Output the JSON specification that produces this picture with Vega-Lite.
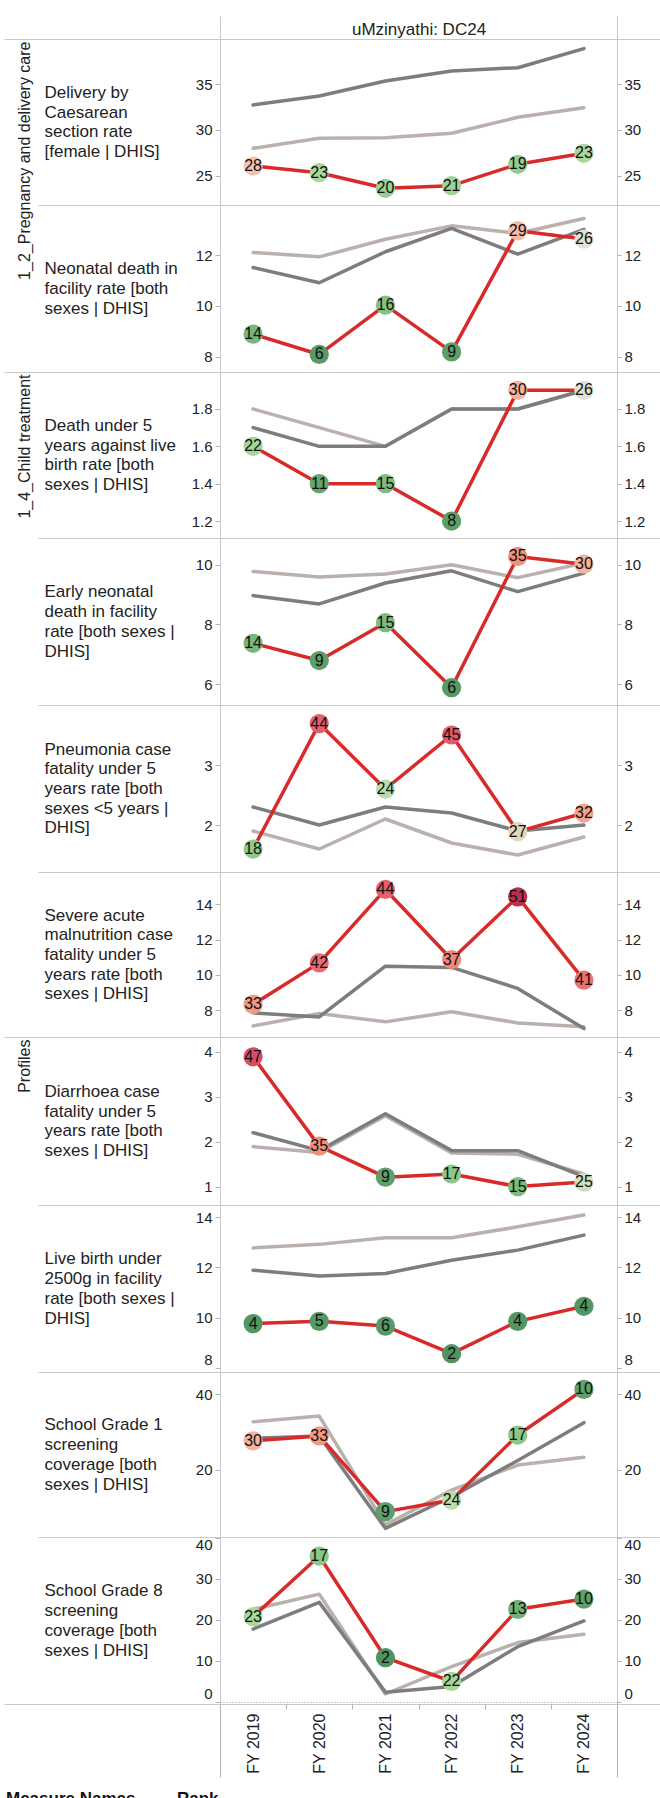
{
"$schema": "https://vega.github.io/schema/vega-lite/v6.json",
"autosize": {"type": "none"},
"padding": {"left": 220, "top": 39, "right": 440, "bottom": 1759},
"background": "white",
"datasets": {"d": [
{"ind":"R1","year":"FY 2019","series":"National","value":28.0},{"ind":"R1","year":"FY 2020","series":"National","value":29.09},{"ind":"R1","year":"FY 2021","series":"National","value":29.16},{"ind":"R1","year":"FY 2022","series":"National","value":29.64},{"ind":"R1","year":"FY 2023","series":"National","value":31.38},{"ind":"R1","year":"FY 2024","series":"National","value":32.43},
{"ind":"R1","year":"FY 2019","series":"Province","value":32.73},{"ind":"R1","year":"FY 2020","series":"Province","value":33.71},{"ind":"R1","year":"FY 2021","series":"Province","value":35.34},{"ind":"R1","year":"FY 2022","series":"Province","value":36.43},{"ind":"R1","year":"FY 2023","series":"Province","value":36.79},{"ind":"R1","year":"FY 2024","series":"Province","value":38.87},
{"ind":"R1","year":"FY 2019","series":"District","value":26.07,"rank":28},{"ind":"R1","year":"FY 2020","series":"District","value":25.34,"rank":23},{"ind":"R1","year":"FY 2021","series":"District","value":23.64,"rank":20},{"ind":"R1","year":"FY 2022","series":"District","value":23.93,"rank":21},{"ind":"R1","year":"FY 2023","series":"District","value":26.26,"rank":19},{"ind":"R1","year":"FY 2024","series":"District","value":27.46,"rank":23},
{"ind":"R2","year":"FY 2019","series":"National","value":12.1},{"ind":"R2","year":"FY 2020","series":"National","value":11.93},{"ind":"R2","year":"FY 2021","series":"National","value":12.62},{"ind":"R2","year":"FY 2022","series":"National","value":13.15},{"ind":"R2","year":"FY 2023","series":"National","value":12.85},{"ind":"R2","year":"FY 2024","series":"National","value":13.44},
{"ind":"R2","year":"FY 2019","series":"Province","value":11.51},{"ind":"R2","year":"FY 2020","series":"Province","value":10.91},{"ind":"R2","year":"FY 2021","series":"Province","value":12.13},{"ind":"R2","year":"FY 2022","series":"Province","value":13.05},{"ind":"R2","year":"FY 2023","series":"Province","value":12.04},{"ind":"R2","year":"FY 2024","series":"Province","value":13.01},
{"ind":"R2","year":"FY 2019","series":"District","value":8.89,"rank":14},{"ind":"R2","year":"FY 2020","series":"District","value":8.09,"rank":6},{"ind":"R2","year":"FY 2021","series":"District","value":10.03,"rank":16},{"ind":"R2","year":"FY 2022","series":"District","value":8.19,"rank":9},{"ind":"R2","year":"FY 2023","series":"District","value":12.96,"rank":29},{"ind":"R2","year":"FY 2024","series":"District","value":12.63,"rank":26},
{"ind":"R3","year":"FY 2019","series":"National","value":1.8},{"ind":"R3","year":"FY 2020","series":"National","value":1.7},{"ind":"R3","year":"FY 2021","series":"National","value":1.6},{"ind":"R3","year":"FY 2022","series":"National","value":1.8},{"ind":"R3","year":"FY 2023","series":"National","value":1.8},{"ind":"R3","year":"FY 2024","series":"National","value":1.9},
{"ind":"R3","year":"FY 2019","series":"Province","value":1.7},{"ind":"R3","year":"FY 2020","series":"Province","value":1.6},{"ind":"R3","year":"FY 2021","series":"Province","value":1.6},{"ind":"R3","year":"FY 2022","series":"Province","value":1.8},{"ind":"R3","year":"FY 2023","series":"Province","value":1.8},{"ind":"R3","year":"FY 2024","series":"Province","value":1.9},
{"ind":"R3","year":"FY 2019","series":"District","value":1.6,"rank":22},{"ind":"R3","year":"FY 2020","series":"District","value":1.4,"rank":11},{"ind":"R3","year":"FY 2021","series":"District","value":1.4,"rank":15},{"ind":"R3","year":"FY 2022","series":"District","value":1.2,"rank":8},{"ind":"R3","year":"FY 2023","series":"District","value":1.9,"rank":30},{"ind":"R3","year":"FY 2024","series":"District","value":1.9,"rank":26},
{"ind":"R4","year":"FY 2019","series":"National","value":9.78},{"ind":"R4","year":"FY 2020","series":"National","value":9.59},{"ind":"R4","year":"FY 2021","series":"National","value":9.69},{"ind":"R4","year":"FY 2022","series":"National","value":10.0},{"ind":"R4","year":"FY 2023","series":"National","value":9.57},{"ind":"R4","year":"FY 2024","series":"National","value":10.06},
{"ind":"R4","year":"FY 2019","series":"Province","value":8.97},{"ind":"R4","year":"FY 2020","series":"Province","value":8.69},{"ind":"R4","year":"FY 2021","series":"Province","value":9.39},{"ind":"R4","year":"FY 2022","series":"Province","value":9.8},{"ind":"R4","year":"FY 2023","series":"Province","value":9.1},{"ind":"R4","year":"FY 2024","series":"Province","value":9.72},
{"ind":"R4","year":"FY 2019","series":"District","value":7.37,"rank":14},{"ind":"R4","year":"FY 2020","series":"District","value":6.79,"rank":9},{"ind":"R4","year":"FY 2021","series":"District","value":8.06,"rank":15},{"ind":"R4","year":"FY 2022","series":"District","value":5.88,"rank":6},{"ind":"R4","year":"FY 2023","series":"District","value":10.28,"rank":35},{"ind":"R4","year":"FY 2024","series":"District","value":10.02,"rank":30},
{"ind":"R5","year":"FY 2019","series":"National","value":1.9},{"ind":"R5","year":"FY 2020","series":"National","value":1.6},{"ind":"R5","year":"FY 2021","series":"National","value":2.1},{"ind":"R5","year":"FY 2022","series":"National","value":1.7},{"ind":"R5","year":"FY 2023","series":"National","value":1.5},{"ind":"R5","year":"FY 2024","series":"National","value":1.8},
{"ind":"R5","year":"FY 2019","series":"Province","value":2.3},{"ind":"R5","year":"FY 2020","series":"Province","value":2.0},{"ind":"R5","year":"FY 2021","series":"Province","value":2.3},{"ind":"R5","year":"FY 2022","series":"Province","value":2.2},{"ind":"R5","year":"FY 2023","series":"Province","value":1.9},{"ind":"R5","year":"FY 2024","series":"Province","value":2.0},
{"ind":"R5","year":"FY 2019","series":"District","value":1.6,"rank":18},{"ind":"R5","year":"FY 2020","series":"District","value":3.69,"rank":44},{"ind":"R5","year":"FY 2021","series":"District","value":2.6,"rank":24},{"ind":"R5","year":"FY 2022","series":"District","value":3.5,"rank":45},{"ind":"R5","year":"FY 2023","series":"District","value":1.89,"rank":27},{"ind":"R5","year":"FY 2024","series":"District","value":2.2,"rank":32},
{"ind":"R6","year":"FY 2019","series":"National","value":7.1},{"ind":"R6","year":"FY 2020","series":"National","value":7.8},{"ind":"R6","year":"FY 2021","series":"National","value":7.33},{"ind":"R6","year":"FY 2022","series":"National","value":7.9},{"ind":"R6","year":"FY 2023","series":"National","value":7.27},{"ind":"R6","year":"FY 2024","series":"National","value":7.05},
{"ind":"R6","year":"FY 2019","series":"Province","value":7.84},{"ind":"R6","year":"FY 2020","series":"Province","value":7.61},{"ind":"R6","year":"FY 2021","series":"Province","value":10.49},{"ind":"R6","year":"FY 2022","series":"Province","value":10.42},{"ind":"R6","year":"FY 2023","series":"Province","value":9.23},{"ind":"R6","year":"FY 2024","series":"Province","value":6.95},
{"ind":"R6","year":"FY 2019","series":"District","value":8.32,"rank":33},{"ind":"R6","year":"FY 2020","series":"District","value":10.68,"rank":42},{"ind":"R6","year":"FY 2021","series":"District","value":14.85,"rank":44},{"ind":"R6","year":"FY 2022","series":"District","value":10.87,"rank":37},{"ind":"R6","year":"FY 2023","series":"District","value":14.43,"rank":51},{"ind":"R6","year":"FY 2024","series":"District","value":9.7,"rank":41},
{"ind":"R7","year":"FY 2019","series":"National","value":1.89},{"ind":"R7","year":"FY 2020","series":"National","value":1.76},{"ind":"R7","year":"FY 2021","series":"National","value":2.58},{"ind":"R7","year":"FY 2022","series":"National","value":1.75},{"ind":"R7","year":"FY 2023","series":"National","value":1.72},{"ind":"R7","year":"FY 2024","series":"National","value":1.28},
{"ind":"R7","year":"FY 2019","series":"Province","value":2.2},{"ind":"R7","year":"FY 2020","series":"Province","value":1.8},{"ind":"R7","year":"FY 2021","series":"Province","value":2.62},{"ind":"R7","year":"FY 2022","series":"Province","value":1.8},{"ind":"R7","year":"FY 2023","series":"Province","value":1.8},{"ind":"R7","year":"FY 2024","series":"Province","value":1.22},
{"ind":"R7","year":"FY 2019","series":"District","value":3.89,"rank":47},{"ind":"R7","year":"FY 2020","series":"District","value":1.9,"rank":35},{"ind":"R7","year":"FY 2021","series":"District","value":1.21,"rank":9},{"ind":"R7","year":"FY 2022","series":"District","value":1.28,"rank":17},{"ind":"R7","year":"FY 2023","series":"District","value":1.0,"rank":15},{"ind":"R7","year":"FY 2024","series":"District","value":1.1,"rank":25},
{"ind":"R8","year":"FY 2019","series":"National","value":12.78},{"ind":"R8","year":"FY 2020","series":"National","value":12.92},{"ind":"R8","year":"FY 2021","series":"National","value":13.18},{"ind":"R8","year":"FY 2022","series":"National","value":13.18},{"ind":"R8","year":"FY 2023","series":"National","value":13.62},{"ind":"R8","year":"FY 2024","series":"National","value":14.09},
{"ind":"R8","year":"FY 2019","series":"Province","value":11.89},{"ind":"R8","year":"FY 2020","series":"Province","value":11.66},{"ind":"R8","year":"FY 2021","series":"Province","value":11.76},{"ind":"R8","year":"FY 2022","series":"Province","value":12.29},{"ind":"R8","year":"FY 2023","series":"Province","value":12.69},{"ind":"R8","year":"FY 2024","series":"Province","value":13.29},
{"ind":"R8","year":"FY 2019","series":"District","value":9.76,"rank":4},{"ind":"R8","year":"FY 2020","series":"District","value":9.85,"rank":5},{"ind":"R8","year":"FY 2021","series":"District","value":9.66,"rank":6},{"ind":"R8","year":"FY 2022","series":"District","value":8.56,"rank":2},{"ind":"R8","year":"FY 2023","series":"District","value":9.85,"rank":4},{"ind":"R8","year":"FY 2024","series":"District","value":10.45,"rank":4},
{"ind":"R9","year":"FY 2019","series":"National","value":32.76},{"ind":"R9","year":"FY 2020","series":"National","value":34.26},{"ind":"R9","year":"FY 2021","series":"National","value":5.5},{"ind":"R9","year":"FY 2022","series":"National","value":14.7},{"ind":"R9","year":"FY 2023","series":"National","value":21.3},{"ind":"R9","year":"FY 2024","series":"National","value":23.35},
{"ind":"R9","year":"FY 2019","series":"Province","value":28.37},{"ind":"R9","year":"FY 2020","series":"Province","value":29.0},{"ind":"R9","year":"FY 2021","series":"Province","value":4.58},{"ind":"R9","year":"FY 2022","series":"Province","value":12.93},{"ind":"R9","year":"FY 2023","series":"Province","value":22.5},{"ind":"R9","year":"FY 2024","series":"Province","value":32.5},
{"ind":"R9","year":"FY 2019","series":"District","value":27.7,"rank":30},{"ind":"R9","year":"FY 2020","series":"District","value":29.0,"rank":33},{"ind":"R9","year":"FY 2021","series":"District","value":9.0,"rank":9},{"ind":"R9","year":"FY 2022","series":"District","value":12.06,"rank":24},{"ind":"R9","year":"FY 2023","series":"District","value":29.24,"rank":17},{"ind":"R9","year":"FY 2024","series":"District","value":41.3,"rank":10},
{"ind":"R10","year":"FY 2019","series":"National","value":22.6},{"ind":"R10","year":"FY 2020","series":"National","value":26.3},{"ind":"R10","year":"FY 2021","series":"National","value":1.95},{"ind":"R10","year":"FY 2022","series":"National","value":8.6},{"ind":"R10","year":"FY 2023","series":"National","value":14.5},{"ind":"R10","year":"FY 2024","series":"National","value":16.5},
{"ind":"R10","year":"FY 2019","series":"Province","value":17.8},{"ind":"R10","year":"FY 2020","series":"Province","value":24.3},{"ind":"R10","year":"FY 2021","series":"Province","value":2.4},{"ind":"R10","year":"FY 2022","series":"Province","value":3.8},{"ind":"R10","year":"FY 2023","series":"Province","value":13.5},{"ind":"R10","year":"FY 2024","series":"Province","value":19.76},
{"ind":"R10","year":"FY 2019","series":"District","value":20.8,"rank":23},{"ind":"R10","year":"FY 2020","series":"District","value":35.6,"rank":17},{"ind":"R10","year":"FY 2021","series":"District","value":10.8,"rank":2},{"ind":"R10","year":"FY 2022","series":"District","value":5.0,"rank":22},{"ind":"R10","year":"FY 2023","series":"District","value":22.6,"rank":13},{"ind":"R10","year":"FY 2024","series":"District","value":25.1,"rank":10}
]},
"data": {"name": "d"},
"spacing": 0,
"bounds": "flush",
"vconcat": [
{"height": 166, "width": 397,
 "transform": [{"filter": "datum.ind === 'R1'"}],
 "encoding": {"x": {"field": "year", "type": "ordinal", "scale": {"type": "band", "paddingInner": 0, "paddingOuter": 0}, "axis": {"orient": "top", "labels": false, "tickBand": "extent", "tickSize": 23, "tickColor": "#c8c8c8", "tickOpacity": {"condition": {"test": "datum.index < 0 || datum.index === 1 || datum.value === 'FY 2024'", "value": 1}, "value": 0}, "title": "uMzinyathi: DC24", "titleFontSize": 17, "titleX": 198.5, "titleY": -9.7, "titleAlign": "center", "titleBaseline": "middle", "titleAngle": 0}}},
 "layer": [
  {"mark": {"type": "line", "strokeWidth": 3.5, "strokeJoin": "round", "strokeCap": "round"},
   "encoding": {"y": {"field": "value", "type": "quantitative", "scale": {"domain": [21.82, 39.92], "zero": false, "nice": false}, "axis": {"orient": "left", "values": [25, 30, 35], "format": "d", "title": ["Delivery by", "Caesarean", "section rate", "[female | DHIS]"], "titleAngle": 0, "titleAlign": "left", "titleBaseline": "middle", "titleX": -176, "titleY": 53.45, "titleLineHeight": 19.7}},
    "color": {"field": "series", "type": "nominal", "scale": {"domain": ["District", "Province", "National"], "range": ["#d92a2a", "#7d7d7d", "#bab0ac"]}, "legend": {"title": "Measure Names", "legendX": -214, "legendY": 1752}}}},
  {"transform": [{"filter": "datum.series === 'District'"}], "mark": {"type": "circle", "size": 370, "opacity": 1},
   "encoding": {"y": {"field": "value", "type": "quantitative", "scale": {"domain": [21.82, 39.92], "zero": false, "nice": false}, "axis": {"orient": "left", "values": [39.92], "tickSize": 216, "tickColor": "#c8c8c8", "labels": false, "title": "1_2_Pregnancy and delivery care", "titleAngle": 270, "titleAlign": "right", "titleBaseline": "middle", "titleX": -196, "titleY": 2, "titleFontSize": 16}},
    "fill": {"field": "rank", "type": "quantitative", "scale": {"type": "linear", "domain": [1, 10, 17, 23, 26, 28, 33, 40, 46, 52], "range": ["#4e9160", "#60a06a", "#8cc688", "#a9d89c", "#dde3d5", "#f5c3b1", "#f29984", "#ee7574", "#df5568", "#b8234a"]}, "legend": {"title": "Rank", "legendX": -43, "legendY": 1752}}}},
  {"transform": [{"filter": "datum.series === 'District'"}], "mark": {"type": "text", "fontSize": 16, "font": "Liberation Sans", "color": "#111"},
   "encoding": {"y": {"field": "value", "type": "quantitative", "scale": {"domain": [21.82, 39.92], "zero": false, "nice": false}, "axis": {"orient": "right", "values": [25, 30, 35], "format": "d", "title": null, "tickSize": 4}}, "text": {"field": "rank", "type": "quantitative"}}},
  {"transform": [{"filter": "datum.series === 'District'"}], "mark": {"type": "point", "opacity": 0},
   "encoding": {"y": {"field": "value", "type": "quantitative", "scale": {"domain": [21.82, 39.92], "zero": false, "nice": false}, "axis": {"orient": "right", "values": [39.92], "tickSize": 43, "tickColor": "#c8c8c8", "labels": false, "title": null}}}}
 ],
 "resolve": {"axis": {"y": "independent"}}},
{"height": 167, "width": 397,
 "transform": [{"filter": "datum.ind === 'R2'"}],
 "encoding": {"x": {"field": "year", "type": "ordinal", "scale": {"type": "band", "paddingInner": 0, "paddingOuter": 0}, "axis": null}},
 "layer": [
  {"mark": {"type": "line", "strokeWidth": 3.5, "strokeJoin": "round", "strokeCap": "round"},
   "encoding": {"y": {"field": "value", "type": "quantitative", "scale": {"domain": [7.4, 13.97], "zero": false, "nice": false}, "axis": {"orient": "left", "values": [8, 10, 12], "format": "d", "title": ["Neonatal death in", "facility rate [both", "sexes | DHIS]"], "titleAngle": 0, "titleAlign": "left", "titleBaseline": "middle", "titleX": -176, "titleY": 63.8, "titleLineHeight": 19.7}},
    "color": {"field": "series", "type": "nominal", "scale": {"domain": ["District", "Province", "National"], "range": ["#d92a2a", "#7d7d7d", "#bab0ac"]}, "legend": {"title": "Measure Names", "legendX": -214, "legendY": 1752}}}},
  {"transform": [{"filter": "datum.series === 'District'"}], "mark": {"type": "circle", "size": 370, "opacity": 1},
   "encoding": {"y": {"field": "value", "type": "quantitative", "scale": {"domain": [7.4, 13.97], "zero": false, "nice": false}, "axis": {"orient": "left", "values": [13.97], "tickSize": 182, "tickColor": "#c8c8c8", "labels": false, "title": null}},
    "fill": {"field": "rank", "type": "quantitative", "scale": {"type": "linear", "domain": [1, 10, 17, 23, 26, 28, 33, 40, 46, 52], "range": ["#4e9160", "#60a06a", "#8cc688", "#a9d89c", "#dde3d5", "#f5c3b1", "#f29984", "#ee7574", "#df5568", "#b8234a"]}, "legend": {"title": "Rank", "legendX": -43, "legendY": 1752}}}},
  {"transform": [{"filter": "datum.series === 'District'"}], "mark": {"type": "text", "fontSize": 16, "font": "Liberation Sans", "color": "#111"},
   "encoding": {"y": {"field": "value", "type": "quantitative", "scale": {"domain": [7.4, 13.97], "zero": false, "nice": false}, "axis": {"orient": "right", "values": [8, 10, 12], "format": "d", "title": null, "tickSize": 4}}, "text": {"field": "rank", "type": "quantitative"}}},
  {"transform": [{"filter": "datum.series === 'District'"}], "mark": {"type": "point", "opacity": 0},
   "encoding": {"y": {"field": "value", "type": "quantitative", "scale": {"domain": [7.4, 13.97], "zero": false, "nice": false}, "axis": {"orient": "right", "values": [13.97], "tickSize": 43, "tickColor": "#c8c8c8", "labels": false, "title": null}}}}
 ],
 "resolve": {"axis": {"y": "independent"}}},
{"height": 166, "width": 397,
 "transform": [{"filter": "datum.ind === 'R3'"}],
 "encoding": {"x": {"field": "year", "type": "ordinal", "scale": {"type": "band", "paddingInner": 0, "paddingOuter": 0}, "axis": null}},
 "layer": [
  {"mark": {"type": "line", "strokeWidth": 3.5, "strokeJoin": "round", "strokeCap": "round"},
   "encoding": {"y": {"field": "value", "type": "quantitative", "scale": {"domain": [1.109, 1.998], "zero": false, "nice": false}, "axis": {"orient": "left", "values": [1.2, 1.4, 1.6, 1.8], "format": ".1f", "title": ["Death under 5", "years against live", "birth rate [both", "sexes | DHIS]"], "titleAngle": 0, "titleAlign": "left", "titleBaseline": "middle", "titleX": -176, "titleY": 53.45, "titleLineHeight": 19.7}},
    "color": {"field": "series", "type": "nominal", "scale": {"domain": ["District", "Province", "National"], "range": ["#d92a2a", "#7d7d7d", "#bab0ac"]}, "legend": {"title": "Measure Names", "legendX": -214, "legendY": 1752}}}},
  {"transform": [{"filter": "datum.series === 'District'"}], "mark": {"type": "circle", "size": 370, "opacity": 1},
   "encoding": {"y": {"field": "value", "type": "quantitative", "scale": {"domain": [1.109, 1.998], "zero": false, "nice": false}, "axis": {"orient": "left", "values": [1.998], "tickSize": 216, "tickColor": "#c8c8c8", "labels": false, "title": "1_4_Child treatment", "titleAngle": 270, "titleAlign": "right", "titleBaseline": "middle", "titleX": -196, "titleY": 2, "titleFontSize": 16}},
    "fill": {"field": "rank", "type": "quantitative", "scale": {"type": "linear", "domain": [1, 10, 17, 23, 26, 28, 33, 40, 46, 52], "range": ["#4e9160", "#60a06a", "#8cc688", "#a9d89c", "#dde3d5", "#f5c3b1", "#f29984", "#ee7574", "#df5568", "#b8234a"]}, "legend": {"title": "Rank", "legendX": -43, "legendY": 1752}}}},
  {"transform": [{"filter": "datum.series === 'District'"}], "mark": {"type": "text", "fontSize": 16, "font": "Liberation Sans", "color": "#111"},
   "encoding": {"y": {"field": "value", "type": "quantitative", "scale": {"domain": [1.109, 1.998], "zero": false, "nice": false}, "axis": {"orient": "right", "values": [1.2, 1.4, 1.6, 1.8], "format": ".1f", "title": null, "tickSize": 4}}, "text": {"field": "rank", "type": "quantitative"}}},
  {"transform": [{"filter": "datum.series === 'District'"}], "mark": {"type": "point", "opacity": 0},
   "encoding": {"y": {"field": "value", "type": "quantitative", "scale": {"domain": [1.109, 1.998], "zero": false, "nice": false}, "axis": {"orient": "right", "values": [1.998], "tickSize": 43, "tickColor": "#c8c8c8", "labels": false, "title": null}}}}
 ],
 "resolve": {"axis": {"y": "independent"}}},
{"height": 167, "width": 397,
 "transform": [{"filter": "datum.ind === 'R4'"}],
 "encoding": {"x": {"field": "year", "type": "ordinal", "scale": {"type": "band", "paddingInner": 0, "paddingOuter": 0}, "axis": null}},
 "layer": [
  {"mark": {"type": "line", "strokeWidth": 3.5, "strokeJoin": "round", "strokeCap": "round"},
   "encoding": {"y": {"field": "value", "type": "quantitative", "scale": {"domain": [5.3, 10.9], "zero": false, "nice": false}, "axis": {"orient": "left", "values": [6, 8, 10], "format": "d", "title": ["Early neonatal", "death in facility", "rate [both sexes |", "DHIS]"], "titleAngle": 0, "titleAlign": "left", "titleBaseline": "middle", "titleX": -176, "titleY": 53.95, "titleLineHeight": 19.7}},
    "color": {"field": "series", "type": "nominal", "scale": {"domain": ["District", "Province", "National"], "range": ["#d92a2a", "#7d7d7d", "#bab0ac"]}, "legend": {"title": "Measure Names", "legendX": -214, "legendY": 1752}}}},
  {"transform": [{"filter": "datum.series === 'District'"}], "mark": {"type": "circle", "size": 370, "opacity": 1},
   "encoding": {"y": {"field": "value", "type": "quantitative", "scale": {"domain": [5.3, 10.9], "zero": false, "nice": false}, "axis": {"orient": "left", "values": [10.9], "tickSize": 182, "tickColor": "#c8c8c8", "labels": false, "title": null}},
    "fill": {"field": "rank", "type": "quantitative", "scale": {"type": "linear", "domain": [1, 10, 17, 23, 26, 28, 33, 40, 46, 52], "range": ["#4e9160", "#60a06a", "#8cc688", "#a9d89c", "#dde3d5", "#f5c3b1", "#f29984", "#ee7574", "#df5568", "#b8234a"]}, "legend": {"title": "Rank", "legendX": -43, "legendY": 1752}}}},
  {"transform": [{"filter": "datum.series === 'District'"}], "mark": {"type": "text", "fontSize": 16, "font": "Liberation Sans", "color": "#111"},
   "encoding": {"y": {"field": "value", "type": "quantitative", "scale": {"domain": [5.3, 10.9], "zero": false, "nice": false}, "axis": {"orient": "right", "values": [6, 8, 10], "format": "d", "title": null, "tickSize": 4}}, "text": {"field": "rank", "type": "quantitative"}}},
  {"transform": [{"filter": "datum.series === 'District'"}], "mark": {"type": "point", "opacity": 0},
   "encoding": {"y": {"field": "value", "type": "quantitative", "scale": {"domain": [5.3, 10.9], "zero": false, "nice": false}, "axis": {"orient": "right", "values": [10.9], "tickSize": 43, "tickColor": "#c8c8c8", "labels": false, "title": null}}}}
 ],
 "resolve": {"axis": {"y": "independent"}}},
{"height": 167, "width": 397,
 "transform": [{"filter": "datum.ind === 'R5'"}],
 "encoding": {"x": {"field": "year", "type": "ordinal", "scale": {"type": "band", "paddingInner": 0, "paddingOuter": 0}, "axis": null}},
 "layer": [
  {"mark": {"type": "line", "strokeWidth": 3.5, "strokeJoin": "round", "strokeCap": "round"},
   "encoding": {"y": {"field": "value", "type": "quantitative", "scale": {"domain": [1.217, 4.0], "zero": false, "nice": false}, "axis": {"orient": "left", "values": [2, 3], "format": "d", "title": ["Pneumonia case", "fatality under 5", "years rate [both", "sexes <5 years |", "DHIS]"], "titleAngle": 0, "titleAlign": "left", "titleBaseline": "middle", "titleX": -176, "titleY": 44.1, "titleLineHeight": 19.7}},
    "color": {"field": "series", "type": "nominal", "scale": {"domain": ["District", "Province", "National"], "range": ["#d92a2a", "#7d7d7d", "#bab0ac"]}, "legend": {"title": "Measure Names", "legendX": -214, "legendY": 1752}}}},
  {"transform": [{"filter": "datum.series === 'District'"}], "mark": {"type": "circle", "size": 370, "opacity": 1},
   "encoding": {"y": {"field": "value", "type": "quantitative", "scale": {"domain": [1.217, 4.0], "zero": false, "nice": false}, "axis": {"orient": "left", "values": [4.0], "tickSize": 182, "tickColor": "#c8c8c8", "labels": false, "title": null}},
    "fill": {"field": "rank", "type": "quantitative", "scale": {"type": "linear", "domain": [1, 10, 17, 23, 26, 28, 33, 40, 46, 52], "range": ["#4e9160", "#60a06a", "#8cc688", "#a9d89c", "#dde3d5", "#f5c3b1", "#f29984", "#ee7574", "#df5568", "#b8234a"]}, "legend": {"title": "Rank", "legendX": -43, "legendY": 1752}}}},
  {"transform": [{"filter": "datum.series === 'District'"}], "mark": {"type": "text", "fontSize": 16, "font": "Liberation Sans", "color": "#111"},
   "encoding": {"y": {"field": "value", "type": "quantitative", "scale": {"domain": [1.217, 4.0], "zero": false, "nice": false}, "axis": {"orient": "right", "values": [2, 3], "format": "d", "title": null, "tickSize": 4}}, "text": {"field": "rank", "type": "quantitative"}}},
  {"transform": [{"filter": "datum.series === 'District'"}], "mark": {"type": "point", "opacity": 0},
   "encoding": {"y": {"field": "value", "type": "quantitative", "scale": {"domain": [1.217, 4.0], "zero": false, "nice": false}, "axis": {"orient": "right", "values": [4.0], "tickSize": 43, "tickColor": "#c8c8c8", "labels": false, "title": null}}}}
 ],
 "resolve": {"axis": {"y": "independent"}}},
{"height": 165, "width": 397,
 "transform": [{"filter": "datum.ind === 'R6'"}],
 "encoding": {"x": {"field": "year", "type": "ordinal", "scale": {"type": "band", "paddingInner": 0, "paddingOuter": 0}, "axis": null}},
 "layer": [
  {"mark": {"type": "line", "strokeWidth": 3.5, "strokeJoin": "round", "strokeCap": "round"},
   "encoding": {"y": {"field": "value", "type": "quantitative", "scale": {"domain": [6.47, 15.84], "zero": false, "nice": false}, "axis": {"orient": "left", "values": [8, 10, 12, 14], "format": "d", "title": ["Severe acute", "malnutrition case", "fatality under 5", "years rate [both", "sexes | DHIS]"], "titleAngle": 0, "titleAlign": "left", "titleBaseline": "middle", "titleX": -176, "titleY": 43.1, "titleLineHeight": 19.7}},
    "color": {"field": "series", "type": "nominal", "scale": {"domain": ["District", "Province", "National"], "range": ["#d92a2a", "#7d7d7d", "#bab0ac"]}, "legend": {"title": "Measure Names", "legendX": -214, "legendY": 1752}}}},
  {"transform": [{"filter": "datum.series === 'District'"}], "mark": {"type": "circle", "size": 370, "opacity": 1},
   "encoding": {"y": {"field": "value", "type": "quantitative", "scale": {"domain": [6.47, 15.84], "zero": false, "nice": false}, "axis": {"orient": "left", "values": [15.84], "tickSize": 182, "tickColor": "#c8c8c8", "labels": false, "title": null}},
    "fill": {"field": "rank", "type": "quantitative", "scale": {"type": "linear", "domain": [1, 10, 17, 23, 26, 28, 33, 40, 46, 52], "range": ["#4e9160", "#60a06a", "#8cc688", "#a9d89c", "#dde3d5", "#f5c3b1", "#f29984", "#ee7574", "#df5568", "#b8234a"]}, "legend": {"title": "Rank", "legendX": -43, "legendY": 1752}}}},
  {"transform": [{"filter": "datum.series === 'District'"}], "mark": {"type": "text", "fontSize": 16, "font": "Liberation Sans", "color": "#111"},
   "encoding": {"y": {"field": "value", "type": "quantitative", "scale": {"domain": [6.47, 15.84], "zero": false, "nice": false}, "axis": {"orient": "right", "values": [8, 10, 12, 14], "format": "d", "title": null, "tickSize": 4}}, "text": {"field": "rank", "type": "quantitative"}}},
  {"transform": [{"filter": "datum.series === 'District'"}], "mark": {"type": "point", "opacity": 0},
   "encoding": {"y": {"field": "value", "type": "quantitative", "scale": {"domain": [6.47, 15.84], "zero": false, "nice": false}, "axis": {"orient": "right", "values": [15.84], "tickSize": 43, "tickColor": "#c8c8c8", "labels": false, "title": null}}}}
 ],
 "resolve": {"axis": {"y": "independent"}}},
{"height": 168, "width": 397,
 "transform": [{"filter": "datum.ind === 'R7'"}],
 "encoding": {"x": {"field": "year", "type": "ordinal", "scale": {"type": "band", "paddingInner": 0, "paddingOuter": 0}, "axis": null}},
 "layer": [
  {"mark": {"type": "line", "strokeWidth": 3.5, "strokeJoin": "round", "strokeCap": "round"},
   "encoding": {"y": {"field": "value", "type": "quantitative", "scale": {"domain": [0.59, 4.33], "zero": false, "nice": false}, "axis": {"orient": "left", "values": [1, 2, 3, 4], "format": "d", "title": ["Diarrhoea case", "fatality under 5", "years rate [both", "sexes | DHIS]"], "titleAngle": 0, "titleAlign": "left", "titleBaseline": "middle", "titleX": -176, "titleY": 54.45, "titleLineHeight": 19.7}},
    "color": {"field": "series", "type": "nominal", "scale": {"domain": ["District", "Province", "National"], "range": ["#d92a2a", "#7d7d7d", "#bab0ac"]}, "legend": {"title": "Measure Names", "legendX": -214, "legendY": 1752}}}},
  {"transform": [{"filter": "datum.series === 'District'"}], "mark": {"type": "circle", "size": 370, "opacity": 1},
   "encoding": {"y": {"field": "value", "type": "quantitative", "scale": {"domain": [0.59, 4.33], "zero": false, "nice": false}, "axis": {"orient": "left", "values": [4.33], "tickSize": 216, "tickColor": "#c8c8c8", "labels": false, "title": "Profiles", "titleAngle": 270, "titleAlign": "right", "titleBaseline": "middle", "titleX": -196, "titleY": 2, "titleFontSize": 16}},
    "fill": {"field": "rank", "type": "quantitative", "scale": {"type": "linear", "domain": [1, 10, 17, 23, 26, 28, 33, 40, 46, 52], "range": ["#4e9160", "#60a06a", "#8cc688", "#a9d89c", "#dde3d5", "#f5c3b1", "#f29984", "#ee7574", "#df5568", "#b8234a"]}, "legend": {"title": "Rank", "legendX": -43, "legendY": 1752}}}},
  {"transform": [{"filter": "datum.series === 'District'"}], "mark": {"type": "text", "fontSize": 16, "font": "Liberation Sans", "color": "#111"},
   "encoding": {"y": {"field": "value", "type": "quantitative", "scale": {"domain": [0.59, 4.33], "zero": false, "nice": false}, "axis": {"orient": "right", "values": [1, 2, 3, 4], "format": "d", "title": null, "tickSize": 4}}, "text": {"field": "rank", "type": "quantitative"}}},
  {"transform": [{"filter": "datum.series === 'District'"}], "mark": {"type": "point", "opacity": 0},
   "encoding": {"y": {"field": "value", "type": "quantitative", "scale": {"domain": [0.59, 4.33], "zero": false, "nice": false}, "axis": {"orient": "right", "values": [4.33], "tickSize": 43, "tickColor": "#c8c8c8", "labels": false, "title": null}}}}
 ],
 "resolve": {"axis": {"y": "independent"}}},
{"height": 167, "width": 397,
 "transform": [{"filter": "datum.ind === 'R8'"}],
 "encoding": {"x": {"field": "year", "type": "ordinal", "scale": {"type": "band", "paddingInner": 0, "paddingOuter": 0}, "axis": null}},
 "layer": [
  {"mark": {"type": "line", "strokeWidth": 3.5, "strokeJoin": "round", "strokeCap": "round"},
   "encoding": {"y": {"field": "value", "type": "quantitative", "scale": {"domain": [7.83, 14.49], "zero": false, "nice": false}, "axis": {"orient": "left", "values": [8, 10, 12, 14], "format": "d", "title": ["Live birth under", "2500g in facility", "rate [both sexes |", "DHIS]"], "titleAngle": 0, "titleAlign": "left", "titleBaseline": "middle", "titleX": -176, "titleY": 53.95, "titleLineHeight": 19.7}},
    "color": {"field": "series", "type": "nominal", "scale": {"domain": ["District", "Province", "National"], "range": ["#d92a2a", "#7d7d7d", "#bab0ac"]}, "legend": {"title": "Measure Names", "legendX": -214, "legendY": 1752}}}},
  {"transform": [{"filter": "datum.series === 'District'"}], "mark": {"type": "circle", "size": 370, "opacity": 1},
   "encoding": {"y": {"field": "value", "type": "quantitative", "scale": {"domain": [7.83, 14.49], "zero": false, "nice": false}, "axis": {"orient": "left", "values": [14.49], "tickSize": 182, "tickColor": "#c8c8c8", "labels": false, "title": null}},
    "fill": {"field": "rank", "type": "quantitative", "scale": {"type": "linear", "domain": [1, 10, 17, 23, 26, 28, 33, 40, 46, 52], "range": ["#4e9160", "#60a06a", "#8cc688", "#a9d89c", "#dde3d5", "#f5c3b1", "#f29984", "#ee7574", "#df5568", "#b8234a"]}, "legend": {"title": "Rank", "legendX": -43, "legendY": 1752}}}},
  {"transform": [{"filter": "datum.series === 'District'"}], "mark": {"type": "text", "fontSize": 16, "font": "Liberation Sans", "color": "#111"},
   "encoding": {"y": {"field": "value", "type": "quantitative", "scale": {"domain": [7.83, 14.49], "zero": false, "nice": false}, "axis": {"orient": "right", "values": [8, 10, 12, 14], "format": "d", "title": null, "tickSize": 4}}, "text": {"field": "rank", "type": "quantitative"}}},
  {"transform": [{"filter": "datum.series === 'District'"}], "mark": {"type": "point", "opacity": 0},
   "encoding": {"y": {"field": "value", "type": "quantitative", "scale": {"domain": [7.83, 14.49], "zero": false, "nice": false}, "axis": {"orient": "right", "values": [14.49], "tickSize": 43, "tickColor": "#c8c8c8", "labels": false, "title": null}}}}
 ],
 "resolve": {"axis": {"y": "independent"}}},
{"height": 165, "width": 397,
 "transform": [{"filter": "datum.ind === 'R9'"}],
 "encoding": {"x": {"field": "year", "type": "ordinal", "scale": {"type": "band", "paddingInner": 0, "paddingOuter": 0}, "axis": null}},
 "layer": [
  {"mark": {"type": "line", "strokeWidth": 3.5, "strokeJoin": "round", "strokeCap": "round"},
   "encoding": {"y": {"field": "value", "type": "quantitative", "scale": {"domain": [2.29, 45.9], "zero": false, "nice": false}, "axis": {"orient": "left", "values": [20, 40], "format": "d", "title": ["School Grade 1", "screening", "coverage [both", "sexes | DHIS]"], "titleAngle": 0, "titleAlign": "left", "titleBaseline": "middle", "titleX": -176, "titleY": 52.95, "titleLineHeight": 19.7}},
    "color": {"field": "series", "type": "nominal", "scale": {"domain": ["District", "Province", "National"], "range": ["#d92a2a", "#7d7d7d", "#bab0ac"]}, "legend": {"title": "Measure Names", "legendX": -214, "legendY": 1752}}}},
  {"transform": [{"filter": "datum.series === 'District'"}], "mark": {"type": "circle", "size": 370, "opacity": 1},
   "encoding": {"y": {"field": "value", "type": "quantitative", "scale": {"domain": [2.29, 45.9], "zero": false, "nice": false}, "axis": {"orient": "left", "values": [45.9], "tickSize": 182, "tickColor": "#c8c8c8", "labels": false, "title": null}},
    "fill": {"field": "rank", "type": "quantitative", "scale": {"type": "linear", "domain": [1, 10, 17, 23, 26, 28, 33, 40, 46, 52], "range": ["#4e9160", "#60a06a", "#8cc688", "#a9d89c", "#dde3d5", "#f5c3b1", "#f29984", "#ee7574", "#df5568", "#b8234a"]}, "legend": {"title": "Rank", "legendX": -43, "legendY": 1752}}}},
  {"transform": [{"filter": "datum.series === 'District'"}], "mark": {"type": "text", "fontSize": 16, "font": "Liberation Sans", "color": "#111"},
   "encoding": {"y": {"field": "value", "type": "quantitative", "scale": {"domain": [2.29, 45.9], "zero": false, "nice": false}, "axis": {"orient": "right", "values": [20, 40], "format": "d", "title": null, "tickSize": 4}}, "text": {"field": "rank", "type": "quantitative"}}},
  {"transform": [{"filter": "datum.series === 'District'"}], "mark": {"type": "point", "opacity": 0},
   "encoding": {"y": {"field": "value", "type": "quantitative", "scale": {"domain": [2.29, 45.9], "zero": false, "nice": false}, "axis": {"orient": "right", "values": [45.9], "tickSize": 43, "tickColor": "#c8c8c8", "labels": false, "title": null}}}}
 ],
 "resolve": {"axis": {"y": "independent"}}},
{"height": 167, "width": 397,
 "transform": [{"filter": "datum.ind === 'R10'"}],
 "encoding": {"x": {"field": "year", "type": "ordinal", "scale": {"type": "band", "paddingInner": 0, "paddingOuter": 0}, "axis": {"orient": "bottom", "title": null, "labelAngle": 270, "labelFontSize": 16, "labelPadding": {"condition": {"test": "datum.value === 'FY 2024'", "value": -64}, "value": 4}, "tickBand": "extent", "tickSize": {"condition": {"test": "datum.index < 0 || datum.index === 1 || datum.value === 'FY 2024'", "value": 73}, "value": 5}, "labelFlush": false}}},
 "layer": [
  {"mark": {"type": "line", "strokeWidth": 3.5, "strokeJoin": "round", "strokeCap": "round"},
   "encoding": {"y": {"field": "value", "type": "quantitative", "scale": {"domain": [-0.49, 40.24], "zero": false, "nice": false}, "axis": {"orient": "left", "values": [0, 10, 20, 30, 40], "format": "d", "title": ["School Grade 8", "screening", "coverage [both", "sexes | DHIS]"], "titleAngle": 0, "titleAlign": "left", "titleBaseline": "middle", "titleX": -176, "titleY": 53.95, "titleLineHeight": 19.7}},
    "color": {"field": "series", "type": "nominal", "scale": {"domain": ["District", "Province", "National"], "range": ["#d92a2a", "#7d7d7d", "#bab0ac"]}, "legend": {"title": "Measure Names", "legendX": -214, "legendY": 1752}}}},
  {"transform": [{"filter": "datum.series === 'District'"}], "mark": {"type": "circle", "size": 370, "opacity": 1},
   "encoding": {"y": {"field": "value", "type": "quantitative", "scale": {"domain": [-0.49, 40.24], "zero": false, "nice": false}, "axis": {"orient": "left", "values": [40.24], "tickSize": 182, "tickColor": "#c8c8c8", "labels": false, "title": null}},
    "fill": {"field": "rank", "type": "quantitative", "scale": {"type": "linear", "domain": [1, 10, 17, 23, 26, 28, 33, 40, 46, 52], "range": ["#4e9160", "#60a06a", "#8cc688", "#a9d89c", "#dde3d5", "#f5c3b1", "#f29984", "#ee7574", "#df5568", "#b8234a"]}, "legend": {"title": "Rank", "legendX": -43, "legendY": 1752}}}},
  {"transform": [{"filter": "datum.series === 'District'"}], "mark": {"type": "text", "fontSize": 16, "font": "Liberation Sans", "color": "#111"},
   "encoding": {"y": {"field": "value", "type": "quantitative", "scale": {"domain": [-0.49, 40.24], "zero": false, "nice": false}, "axis": {"orient": "right", "values": [0, 10, 20, 30, 40], "format": "d", "title": null, "tickSize": 4}}, "text": {"field": "rank", "type": "quantitative"}}},
  {"transform": [{"filter": "datum.series === 'District'"}], "mark": {"type": "point", "opacity": 0},
   "encoding": {"y": {"field": "value", "type": "quantitative", "scale": {"domain": [-0.49, 40.24], "zero": false, "nice": false}, "axis": {"orient": "right", "values": [40.24, -0.49], "tickSize": 43, "tickColor": "#c8c8c8", "labels": false, "title": null}}}},
  {"transform": [{"filter": "datum.series === 'District'"}], "mark": {"type": "point", "opacity": 0},
   "encoding": {"y": {"field": "value", "type": "quantitative", "scale": {"domain": [-0.49, 40.24], "zero": false, "nice": false}, "axis": {"orient": "left", "values": [-0.49], "tickSize": 216, "tickColor": "#c8c8c8", "labels": false, "title": null}}}},
  {"transform": [{"filter": "datum.series === 'District'"}], "mark": {"type": "point", "opacity": 0},
   "encoding": {"y": {"field": "value", "type": "quantitative", "scale": {"domain": [-0.49, 40.24], "zero": false, "nice": false}, "axis": {"orient": "left", "values": [0], "ticks": false, "labels": false, "grid": true, "gridColor": "#9a9a9a", "gridDash": [1, 2], "gridWidth": 1, "title": null}}}}
 ],
 "resolve": {"axis": {"y": "independent"}}}
],
"config": {
 "font": "Liberation Sans",
 "view": {"stroke": "#c8c8c8", "strokeWidth": 1},
 "axis": {"domain": false, "grid": false, "labelFont": "Liberation Sans", "labelFontSize": 15, "labelColor": "#222", "tickColor": "#b4b4b4", "tickSize": 5, "labelPadding": 3, "labelFlush": 8, "titleFont": "Liberation Sans", "titleFontSize": 17, "titleFontWeight": "normal", "titleColor": "#222"},
 "legend": {"orient": "none", "direction": "vertical", "titleFont": "Liberation Sans", "titleFontSize": 17, "titleFontWeight": "bold", "titleColor": "#111", "labelFont": "Liberation Sans", "labelFontSize": 14}
}
}
